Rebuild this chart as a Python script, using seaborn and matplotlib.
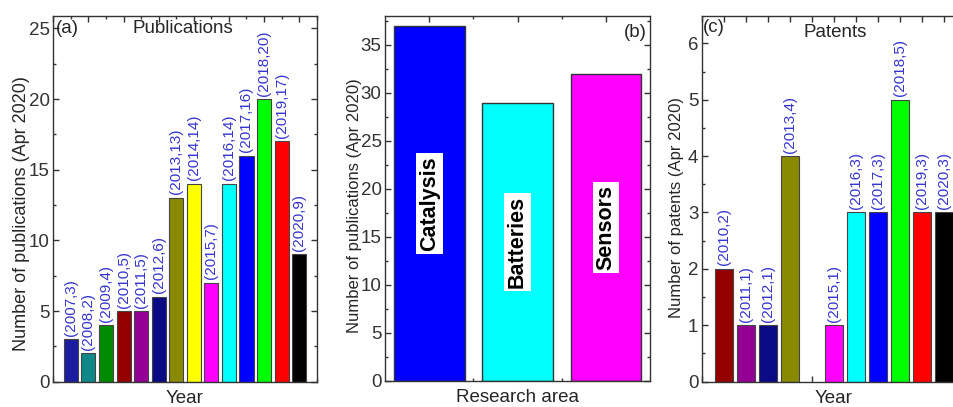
import matplotlib
matplotlib.use("Agg")
import matplotlib.pyplot as plt
import seaborn as sns
import pandas as pd
from matplotlib.ticker import MultipleLocator, FixedLocator

# ---------------- data ----------------
pub_years = [2007, 2008, 2009, 2010, 2011, 2012, 2013, 2014, 2015, 2016, 2017, 2018, 2019, 2020]
pub_counts = [3, 2, 4, 5, 5, 6, 13, 14, 7, 14, 16, 20, 17, 9]

area_names = ["Catalysis", "Batteries", "Sensors"]
area_counts = [37, 29, 32]
area_colors = ["#0000ff", "#00ffff", "#ff00ff"]

pat_years = [2010, 2011, 2012, 2013, 2015, 2016, 2017, 2018, 2019, 2020]
pat_counts = [2, 1, 1, 4, 1, 3, 3, 5, 3, 3]

year_colors = {
    "2007": "#1c1ca0", "2008": "#108888", "2009": "#008a00", "2010": "#940000",
    "2011": "#940094", "2012": "#0a0a84", "2013": "#8a8a00", "2014": "#ffff00",
    "2015": "#ff00ff", "2016": "#00ffff", "2017": "#0000ff", "2018": "#00ff00",
    "2019": "#ff0000", "2020": "#000000",
}

label_color = "#3535d0"

# ---------------- style ----------------
sns.set_style("ticks")
plt.rcParams["font.family"] = ["Liberation Sans", "DejaVu Sans"]
plt.rcParams["axes.edgecolor"] = "#333333"
plt.rcParams["axes.linewidth"] = 1.0

fig = plt.figure(figsize=(9.54, 4.07), dpi=100)
ax_a = fig.add_axes([0.0559, 0.0622, 0.2761, 0.8993])
ax_b = fig.add_axes([0.4036, 0.0639, 0.2778, 0.8975])
ax_c = fig.add_axes([0.7358, 0.0622, 0.2767, 0.8993])


def style_axes(ax):
    ax.tick_params(which="both", direction="in", top=True, right=True,
                   bottom=True, left=True, labelbottom=False, colors="#333333",
                   labelcolor="#333333", labelsize=13.5, width=1.0, pad=2.5)
    ax.tick_params(which="major", length=4.5)
    ax.tick_params(which="minor", length=2.5)
    for s in ax.spines.values():
        s.set_visible(True)
        s.set_color("#333333")


# ---------------- (a) publications ----------------
df_a = pd.DataFrame({"year": pub_years, "count": pub_counts,
                     "key": [str(y) for y in pub_years]})
sns.barplot(data=df_a, x="year", y="count", hue="key", palette=year_colors,
            native_scale=True, width=0.8, legend=False, ax=ax_a,
            edgecolor="#444444", linewidth=0.8, saturation=1)
for y, v in zip(pub_years, pub_counts):
    ax_a.annotate(f"({y},{v})", xy=(y, v), xytext=(0, 2.5), textcoords="offset points",
                  rotation=90, ha="center", va="bottom", color=label_color, fontsize=11)
ax_a.set_xlim(2006, 2021)
ax_a.set_ylim(0, 25.9)
ax_a.xaxis.set_major_locator(MultipleLocator(2))
ax_a.xaxis.set_minor_locator(MultipleLocator(1))
ax_a.yaxis.set_major_locator(MultipleLocator(5))
ax_a.yaxis.set_minor_locator(MultipleLocator(2.5))
style_axes(ax_a)
ax_a.set_xlabel("Year", fontsize=13.5, labelpad=6)
ax_a.set_ylabel("Number of publications (Apr 2020)", fontsize=13)
ax_a.yaxis.set_label_coords(-0.088, 0.46)
ax_a.text(0.052, 0.964, "(a)", transform=ax_a.transAxes, ha="center", va="center", fontsize=13.5)
ax_a.text(0.49, 0.964, "Publications", transform=ax_a.transAxes, ha="center", va="center", fontsize=13.5)

# ---------------- (b) research area ----------------
df_b = pd.DataFrame({"area": area_names, "count": area_counts})
sns.barplot(data=df_b, x="area", y="count", hue="area", palette=area_colors,
            width=0.8, legend=False, ax=ax_b, edgecolor="#333333", linewidth=1.0,
            saturation=1)
for i, (name, v) in enumerate(zip(area_names, area_counts)):
    ax_b.text(i, v / 2, name, rotation=90, ha="center", va="center", fontsize=15.5,
              fontweight="bold", color="black",
              bbox=dict(facecolor="white", edgecolor="none", pad=2))
ax_b.set_xlim(-0.5, 2.5)
ax_b.set_ylim(0, 38.05)
ax_b.xaxis.set_major_locator(FixedLocator([0, 1, 2]))
ax_b.xaxis.set_minor_locator(FixedLocator([0.5, 1.5]))
ax_b.yaxis.set_major_locator(MultipleLocator(5))
ax_b.yaxis.set_minor_locator(MultipleLocator(2.5))
style_axes(ax_b)
ax_b.set_xlabel("Research area", fontsize=13.5, labelpad=6)
ax_b.set_ylabel("Number of publications (Apr 2020)", fontsize=12)
ax_b.yaxis.set_label_coords(-0.087, 0.479)
ax_b.text(0.943, 0.955, "(b)", transform=ax_b.transAxes, ha="center", va="center", fontsize=13.5)

# ---------------- (c) patents ----------------
df_c = pd.DataFrame({"year": pat_years, "count": pat_counts,
                     "key": [str(y) for y in pat_years]})
sns.barplot(data=df_c, x="year", y="count", hue="key",
            palette={k: year_colors[k] for k in df_c["key"]},
            native_scale=True, width=0.8, legend=False, ax=ax_c,
            edgecolor="#444444", linewidth=0.8, saturation=1)
for y, v in zip(pat_years, pat_counts):
    ax_c.annotate(f"({y},{v})", xy=(y, v), xytext=(0, 2.5), textcoords="offset points",
                  rotation=90, ha="center", va="bottom", color=label_color, fontsize=11)
ax_c.set_xlim(2009, 2021)
ax_c.set_ylim(0, 6.49)
ax_c.xaxis.set_major_locator(MultipleLocator(1))
ax_c.yaxis.set_major_locator(MultipleLocator(1))
ax_c.yaxis.set_minor_locator(MultipleLocator(0.5))
style_axes(ax_c)
ax_c.set_xlabel("Year", fontsize=13.5, labelpad=6)
ax_c.set_ylabel("Number of patents (Apr 2020)", fontsize=12)
ax_c.yaxis.set_label_coords(-0.068, 0.476)
ax_c.text(0.045, 0.968, "(c)", transform=ax_c.transAxes, ha="center", va="center", fontsize=13.5)
ax_c.text(0.504, 0.955, "Patents", transform=ax_c.transAxes, ha="center", va="center", fontsize=13.5)

fig.savefig("out.png", dpi=100)
